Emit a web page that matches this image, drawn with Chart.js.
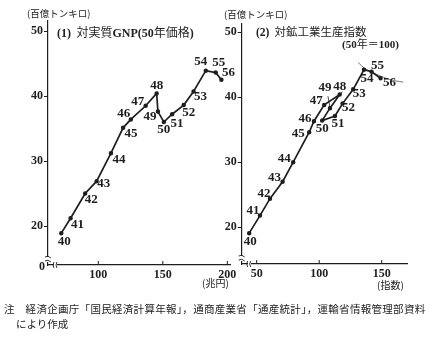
<!DOCTYPE html>
<html lang="ja">
<head>
<meta charset="UTF-8">
<title>輸送トンキロと実質GNP・鉱工業生産</title>
<script src="https://cdn.jsdelivr.net/npm/chart.js"></script>
<style>
  body { margin: 0; background: #fff; }
  #wrap { position: relative; width: 435px; height: 340px; color: #222;
          font-family: 'Noto Sans CJK JP', sans-serif; }
  #wrap canvas { position: absolute; top: 0; }
  .t { position: absolute; white-space: nowrap; line-height: 1; }
  .num { font-family: 'Liberation Serif', serif; font-weight: bold; }
</style>
</head>
<body>
<div id="wrap">
  <canvas id="gnpChart" width="236" height="290" style="left:0"></canvas>
  <canvas id="ipiChart" width="220" height="290" style="left:215px"></canvas>

  <div class="t" style="left:27px;top:9px;font-size:9.5px">(百億トンキロ)</div>
  <div class="t" style="left:57px;top:26px;font-size:12px"><span class="num">(1)</span>&nbsp; 対実質<span class="num">GNP(50</span>年価格<span class="num">)</span></div>
  <div class="t" style="left:202px;top:278px;font-size:10px">(兆円)</div>

  <div class="t" style="left:224px;top:10px;font-size:9.5px">(百億トンキロ)</div>
  <div class="t" style="left:256px;top:26px;font-size:11.5px"><span class="num">(2)</span>&nbsp; 対鉱工業生産指数</div>
  <div class="t" style="left:342px;top:38px;font-size:11px"><span class="num">(50</span>年＝<span class="num">100)</span></div>
  <div class="t" style="left:377px;top:280px;font-size:10px">(指数)</div>

  <div class="t" style="left:4px;top:304px;font-size:10.5px;letter-spacing:0.3px">注　経済企画庁「国民経済計算年報」，通商産業省「通産統計」，運輸省情報管理部資料</div>
  <div class="t" style="left:16px;top:319px;font-size:10.5px">により作成</div>
</div>

<script>
// 年次（昭和）
const years = ['40','41','42','43','44','45','46','47','48','49','50','51','52','53','54','55','56'];

// (1) 実質GNP（兆円）と輸送トンキロ（百億トンキロ）
const gnp      = [71.3, 78.5, 89.8, 98.7, 109.8, 119.2, 125.2, 136.7, 145.2, 146.2, 150.8, 157.2, 166.2, 173.8, 183.3, 191.0, 195.4];
const tonkmGnp = [18.9, 21.2, 25.0, 26.9, 31.2, 35.1, 36.4, 38.5, 40.4, 37.6, 36.0, 37.2, 38.6, 40.7, 43.9, 43.6, 42.5];

// (2) 鉱工業生産指数（50年＝100）と輸送トンキロ
const ipi      = [44.0, 52.6, 60.6, 70.7, 79.2, 92.0, 95.8, 104.0, 116.4, 108.6, 102.4, 112.6, 118.7, 127.2, 135.8, 141.9, 149.1];
const tonkmIpi = [19.1, 21.8, 24.4, 27.0, 30.0, 34.6, 36.3, 38.8, 40.4, 38.3, 36.4, 37.1, 39.0, 41.2, 44.2, 43.9, 42.9];

// 54〜56年付近の手書きの曲線
const arcX = [131.2, 136.6, 145.9, 156.6, 167.2];
const arcY = [45.3, 44.4, 43.5, 42.7, 42.3];

// 年次ラベルの位置（点からのずらし, px）
const gnpLabelOff = [[3,8],[7,6],[6,6],[7,2],[8,6],[8,6],[-7,-6],[-8,-4],[0,-8],[-8,5],[0,8],[5,9],[5,8],[7,5],[-5,-9],[3,-10],[7,-7]];
const ipiLabelOff = [[1,8],[-7,-5],[-6,-5],[-8,-4],[-9,-4],[-11,1],[-9,-3],[-8,-4],[0,-8],[-5,-21],[0,8],[3,8],[6,4],[6,4],[3,9],[6,-6],[9,4]];

const INK = '#1e1e1e';
const tickFont = { family: 'Liberation Serif', size: 12, weight: 'bold' };

function points(xs, ys) {
  return xs.map((x, i) => ({ x, y: ys[i] }));
}

// 年次ラベル、x軸の内向き目盛、省略記号と「0」
const decor = {
  id: 'decor',
  afterDatasetsDraw(chart, args, opts) {
    const ctx = chart.ctx;
    const { left, bottom } = chart.chartArea;
    const xs = chart.scales.x;
    ctx.save();
    ctx.fillStyle = INK;
    ctx.strokeStyle = INK;

    // 年次
    ctx.font = 'bold 13px "Liberation Serif"';
    ctx.textAlign = 'center';
    ctx.textBaseline = 'middle';
    chart.getDatasetMeta(0).data.forEach((pt, i) => {
      const [dx, dy] = opts.offsets[i];
      ctx.fillText(years[i], pt.x + dx, pt.y + dy);
    });
    if (opts.leader) {
      const pt = chart.getDatasetMeta(0).data[opts.leader];
      ctx.lineWidth = 0.8;
      ctx.beginPath();
      ctx.moveTo(pt.x - 2, pt.y - 12);
      ctx.lineTo(pt.x, pt.y - 1);
      ctx.stroke();
    }

    // x軸目盛（内側）
    ctx.lineWidth = 1;
    xs.ticks.forEach(t => {
      const px = xs.getPixelForValue(t.value);
      ctx.beginPath();
      ctx.moveTo(px, bottom);
      ctx.lineTo(px, bottom - 4);
      ctx.stroke();
    });

    // 軸の省略記号
    ctx.clearRect(left - 1, bottom - 8, 3, 5);
    ctx.lineWidth = 0.9;
    ctx.beginPath();
    ctx.moveTo(left - 3, bottom - 8);
    ctx.quadraticCurveTo(left, bottom - 10, left + 3, bottom - 7);
    ctx.moveTo(left - 3, bottom - 4);
    ctx.quadraticCurveTo(left, bottom - 6, left + 3, bottom - 3);
    ctx.stroke();
    ctx.clearRect(left + 6, bottom - 1, 3, 3);
    ctx.beginPath();
    ctx.moveTo(left + 6, bottom - 3);
    ctx.quadraticCurveTo(left + 4, bottom, left + 6, bottom + 3);
    ctx.moveTo(left + 9, bottom - 3);
    ctx.quadraticCurveTo(left + 7, bottom, left + 9, bottom + 3);
    ctx.stroke();

    if (opts.zero) {
      ctx.font = 'bold 12px "Liberation Serif"';
      ctx.textAlign = 'right';
      ctx.fillText('0', left - 3, bottom + 2);
    }
    ctx.restore();
  }
};

function makeChart(id, cfg) {
  return new Chart(document.getElementById(id), {
    type: 'scatter',
    data: {
      datasets: [{
        data: cfg.data,
        showLine: true,
        borderColor: INK,
        backgroundColor: INK,
        borderWidth: 1.7,
        pointRadius: 1.4,
        tension: 0
      }].concat(cfg.extra || [])
    },
    options: {
      responsive: false,
      animation: false,
      layout: { padding: cfg.padding },
      plugins: {
        legend: { display: false },
        tooltip: { enabled: false },
        decor: cfg.decor
      },
      scales: {
        x: {
          type: 'linear',
          min: cfg.xMin, max: cfg.xMax,
          afterBuildTicks: s => { s.ticks = cfg.xTicks.map(v => ({ value: v })); },
          afterFit: s => { s.height = 20; s.paddingLeft = 0; s.paddingRight = 0; },
          border: { color: INK, width: 1.2 },
          grid: { display: false, drawTicks: false },
          ticks: { color: INK, font: tickFont, padding: 3, maxRotation: 0 }
        },
        y: {
          min: cfg.yMin, max: cfg.yMax,
          afterBuildTicks: s => { s.ticks = [20, 30, 40, 50].map(v => ({ value: v })); },
          afterFit: s => { s.width = cfg.yWidth; s.paddingTop = 0; s.paddingBottom = 0; },
          border: { color: INK, width: 1.2 },
          grid: { drawOnChartArea: false, tickLength: 4, color: INK, tickColor: INK },
          ticks: { color: INK, font: tickFont, padding: 1 }
        }
      }
    },
    plugins: [decor]
  });
}

makeChart('gnpChart', {
  data: points(gnp, tonkmGnp),
  xMin: 61, xMax: 202.3, xTicks: [100, 150, 200],
  yMin: 14.0, yMax: 51.54, yWidth: 30,
  padding: { left: 18, right: 4, top: 21, bottom: 5 },
  decor: { offsets: gnpLabelOff, zero: true }
});

makeChart('ipiChart', {
  data: points(ipi, tonkmIpi),
  extra: [{
    data: points(arcX, arcY),
    showLine: true,
    borderColor: '#555',
    borderWidth: 0.8,
    pointRadius: 0,
    tension: 0.4
  }],
  xMin: 38, xMax: 170.8, xTicks: [50, 100, 150],
  yMin: 14.36, yMax: 51.23, yWidth: 20,
  padding: { left: 6.7, right: 27.3, top: 24, bottom: 6 },
  decor: { offsets: ipiLabelOff, zero: false, leader: 9 }
});
</script>
</body>
</html>
